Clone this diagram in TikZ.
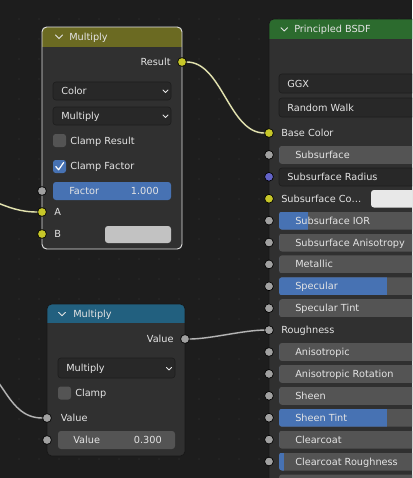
\documentclass[tikz,border=0pt]{standalone}
\usepackage{fontspec}
\setmainfont{DejaVu Sans}
\usepackage{tikz}
\usetikzlibrary{positioning}
\definecolor{bg}{HTML}{1D1D1D}
\definecolor{dotc}{HTML}{2B2B2B}
\definecolor{nodebody}{HTML}{303030}
\definecolor{nodeline}{HTML}{181818}
\definecolor{selline}{HTML}{E2E2E2}
\definecolor{hdolive}{HTML}{6B6A22}
\definecolor{hdblue}{HTML}{22607F}
\definecolor{hdgreen}{HTML}{2C6B2E}
\definecolor{fieldc}{HTML}{282828}
\definecolor{fieldl}{HTML}{1E1E1E}
\definecolor{slidec}{HTML}{545454}
\definecolor{bluec}{HTML}{4772B3}
\definecolor{txt}{HTML}{E4E4E4}
\definecolor{sockY}{HTML}{C7C729}
\definecolor{sockG}{HTML}{A1A1A1}
\definecolor{sockP}{HTML}{6363C7}
\definecolor{wireY}{HTML}{E2E2AE}
\definecolor{wireG}{HTML}{B4B4B4}
\newcommand\nfont{\fontsize{7.3}{8}\selectfont}
\tikzstyle{sock} = [circle, draw=black, line width=0.5pt, minimum size=6.6pt,
    inner sep=0pt]
\tikzstyle{lbl} = [anchor=west, inner sep=0pt, text height=5.3pt,
    text depth=0pt, text=txt, font=\nfont]
\tikzstyle{rlbl} = [lbl, anchor=east]
\tikzstyle{field} = [rounded corners=2.2pt, fill=fieldc, draw=fieldl,
    line width=0.5pt]
\tikzstyle{chev} = [draw=txt, line width=0.6pt, line cap=round,
    line join=round]
\tikzstyle{wire} = [line width=1.05pt, preaction={draw=black!85,
    line width=1.9pt}]
\begin{document}
\begin{tikzpicture}[x=0.75pt, y=-0.75pt]
  \useasboundingbox (0,0) rectangle (412,478);
  \clip (0,0) rectangle (412,478);
  \fill[bg] (0,0) rectangle (412,478);
  \foreach \i in {0,...,20}
    \foreach \j in {0,...,23}
      \fill[dotc] (20*\i+19,20*\j+19) circle (0.7pt);

  % Multiply (color) node
  \begin{scope}
    \clip[rounded corners=3.5pt] (42,27) rectangle (182,249);
    \fill[nodebody] (42,27) rectangle (182,249);
    \fill[hdolive] (42,27) rectangle (182,47);
  \end{scope}
  \draw[selline, line width=0.7pt, rounded corners=3.5pt] (42,27) rectangle (182,249);
  \draw[chev] (55.5,35) -- (59,38.5) -- (62.5,35);
  \node[lbl] (mixTitle) at (69,37) {Multiply};
  \node[sock, fill=sockY] (resOut) at (182,62) {};
  \node[rlbl, left=4.8pt of resOut] (resLbl) {Result};
  \draw[field] (53,82) rectangle (171,100);
  \node[lbl] (mixType) at (61,91) {Color};
  \draw[chev] (163,90) -- (165.5,92.5) -- (168,90);
  \draw[field] (53,107) rectangle (171,125);
  \node[lbl] (mixBlend) at (61,116) {Multiply};
  \draw[chev] (163,115) -- (165.5,117.5) -- (168,115);
  \fill[slidec, rounded corners=2pt] (53,134) rectangle (66,147);
  \node[lbl] (clampRes) at (70,141) {Clamp Result};
  \fill[bluec, rounded corners=2pt] (53,160) rectangle (66,173);
  \draw[white, line width=0.9pt, line cap=round, line join=round]
    (55.8,166.5) -- (58.6,169.8) -- (63.6,162.6);
  \node[lbl] (clampFac) at (70,166) {Clamp Factor};
  \fill[bluec, rounded corners=2.2pt] (53,182) rectangle (171,200);
  \node[lbl] (facLbl) at (69,191) {Factor};
  \node[rlbl] (facVal) at (159,191) {1.000};
  \node[sock, fill=sockG] (facIn) at (42,191) {};
  \node[sock, fill=sockY] (aIn) at (42,212) {};
  \node[lbl, right=5.6pt of aIn] (aLbl) {A};
  \node[sock, fill=sockY] (bIn) at (42,234) {};
  \node[lbl, right=5.6pt of bIn] (bLbl) {B};
  \fill[black!24, rounded corners=2.2pt] (105,226) rectangle (171,243);

  % Multiply (value) node
  \begin{scope}
    \clip[rounded corners=3.5pt] (47,304) rectangle (185,456);
    \fill[nodebody] (47,304) rectangle (185,456);
    \fill[hdblue] (47,304) rectangle (185,323);
  \end{scope}
  \draw[nodeline, line width=0.6pt, rounded corners=3.5pt] (47,304) rectangle (185,456);
  \draw[chev] (58.5,312.3) -- (62,315.8) -- (65.5,312.3);
  \node[lbl] (mathTitle) at (73,314) {Multiply};
  \node[sock, fill=sockG] (valOut) at (185,339) {};
  \node[rlbl, left=4.8pt of valOut] (valOutLbl) {Value};
  \draw[field] (58,358) rectangle (175,378);
  \node[lbl] (mathOp) at (66,368) {Multiply};
  \draw[chev] (166.5,367.5) -- (169,370) -- (171.5,367.5);
  \fill[slidec, rounded corners=2pt] (58,386.5) rectangle (71,399.5);
  \node[lbl] (clampLbl) at (75,393) {Clamp};
  \node[sock, fill=sockG] (valIn) at (47,418) {};
  \node[lbl, right=6.6pt of valIn] (valInLbl) {Value};
  \fill[slidec, rounded corners=2.2pt] (58,431) rectangle (175,449);
  \node[sock, fill=sockG] (val2In) at (47,440) {};
  \node[lbl] (val2Lbl) at (73,440) {Value};
  \node[rlbl] (val2Num) at (162,440) {0.300};

  % Principled BSDF node
  \begin{scope}
    \clip[rounded corners=3.5pt] (269,19) rectangle (450,520);
    \fill[nodebody] (269,19) rectangle (450,520);
    \fill[hdgreen] (269,19) rectangle (450,39);
  \end{scope}
  \draw[nodeline, line width=0.6pt, rounded corners=3.5pt] (269,19) rectangle (450,520);
  \draw[chev] (281,27.7) -- (284.3,31) -- (287.6,27.7);
  \node[lbl] (bsdfTitle) at (294,29) {Principled BSDF};
  \draw[field] (279,74) rectangle (440,93);
  \node[lbl] (distLbl) at (287,84) {GGX};
  \draw[field] (279,98) rectangle (440,117);
  \node[lbl] (sssLbl) at (287,108) {Random Walk};
  \node[sock, fill=sockY] (bsdf0) at (269,133) {};
  \node[lbl] (lbl0) at (281,133) {Base Color};
  \draw[field] (279,168) rectangle (440,186);
  \node[sock, fill=sockP] (bsdf2) at (269,176.8) {};
  \node[lbl] (lbl2) at (287,176.8) {Subsurface Radius};
  \node[sock, fill=sockY] (bsdf3) at (269,198.7) {};
  \node[lbl] (lbl3) at (281,198.7) {Subsurface Co…};
  \fill[black!9, rounded corners=2.2pt] (371,190) rectangle (440,207.5);
  \node[sock, fill=sockG] (bsdf9) at (269,330.1) {};
  \node[lbl] (lbl9) at (281,330.1) {Roughness};
  \foreach \k/\rowname/\rowfill in {1/Subsurface/0, 4/Subsurface IOR/29,
      5/Subsurface Anisotropy/0, 6/Metallic/0, 7/Specular/108,
      8/Specular Tint/0, 10/Anisotropic/0, 11/Anisotropic Rotation/0,
      12/Sheen/0, 13/Sheen Tint/108, 14/Clearcoat/0,
      15/Clearcoat Roughness/5} {
    \pgfmathsetmacro\yy{133+21.9*\k}
    \begin{scope}
      \clip[rounded corners=2.2pt] (279,\yy-9) rectangle (440,\yy+9);
      \fill[slidec] (279,\yy-9) rectangle (440,\yy+9);
      \fill[bluec] (279,\yy-9) rectangle (279+\rowfill,\yy+9);
    \end{scope}
    \node[sock, fill=sockG] (bsdf\k) at (269,\yy) {};
    \node[lbl] (lbl\k) at (295,\yy) {\rowname};
  }
  \fill[slidec, rounded corners=2.2pt] (279,474.5) rectangle (440,492.5);

  % Links
  \coordinate (srcA) at (-50,192);
  \coordinate (srcV) at (-40,360);
  \draw[wire, wireY] (srcA) .. controls +(40,0) and +(-40,0) .. (aIn);
  \draw[wire, wireG] (srcV) .. controls +(45,0) and +(-45,0) .. (valIn);
  \draw[wire, wireY] (resOut) .. controls +(40,0) and +(-40,0) .. (bsdf0);
  \draw[wire, wireG] (valOut) .. controls +(25,0) and +(-25,0) .. (bsdf9);
\end{tikzpicture}
\end{document}
